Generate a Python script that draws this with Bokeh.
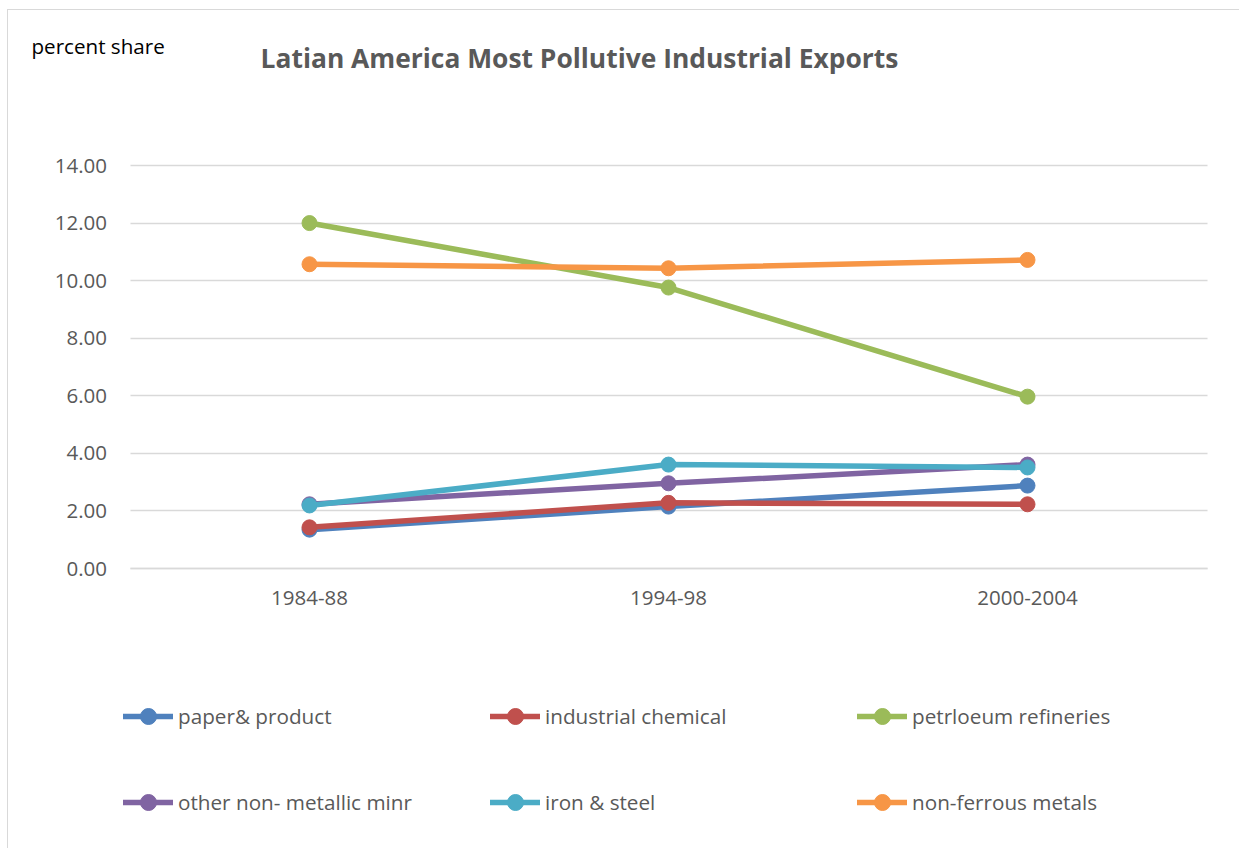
from bokeh.plotting import figure
from bokeh.models import (Legend, LegendItem, FixedTicker, NumeralTickFormatter,
                          Range1d, Label, Grid)
from bokeh.embed import file_html
from bokeh.resources import INLINE

periods = ["1984-88", "1994-98", "2000-2004"]
paper_product = [1.35, 2.15, 2.88]
industrial_chemical = [1.43, 2.28, 2.23]
petroleum_refineries = [12.00, 9.76, 5.97]
non_metallic_minr = [2.23, 2.96, 3.61]
iron_steel = [2.19, 3.61, 3.51]
non_ferrous_metals = [10.57, 10.43, 10.72]

series_names = ["paper& product", "industrial chemical", "petrloeum refineries",
                "other non- metallic minr", "iron & steel", "non-ferrous metals"]
series_values = [paper_product, industrial_chemical, petroleum_refineries,
                 non_metallic_minr, iron_steel, non_ferrous_metals]
series_colors = ["#4F81BD", "#C0504D", "#9BBB59", "#8064A2", "#4BACC6", "#F79646"]
y_ticks = [0, 2, 4, 6, 8, 10, 12, 14]

chart_title = "Latian America Most Pollutive Industrial Exports"
unit_note = "percent share"

FONT = "Open Sans"
GREY = "#595959"
GRID = "#D9D9D9"

# canvas geometry (pixels); the plotting frame fills the whole canvas and the
# axes sit at fixed positions inside it, leaving room for heading and keys
W, H = 1232, 839
LEFT, TOP = 7, 9
CAT0_PX, CAT_STEP_PX = 308 - LEFT, 359          # first category centre, spacing
ZERO_PX, UNIT_PX = 567 - TOP, (567 - 164) / 14  # y=0 position, pixels per unit

slot = list(range(len(periods)))
x_lo = -CAT0_PX / CAT_STEP_PX
x_hi = (W - CAT0_PX) / CAT_STEP_PX
y_hi = ZERO_PX / UNIT_PX
y_lo = -(H - ZERO_PX) / UNIT_PX
plot_span = (-0.5, len(periods) - 0.5)

p = figure(width=W, height=H, output_backend="svg", toolbar_location=None,
           margin=(TOP, 0, 0, LEFT),
           styles={"border-left": "1px solid #D9D9D9",
                   "border-top": "1px solid #D9D9D9"},
           x_range=Range1d(x_lo, x_hi), y_range=Range1d(y_lo, y_hi),
           min_border=0)
p.title.visible = False
p.outline_line_color = None
p.background_fill_color = "white"
p.border_fill_color = "white"

xa, ya = p.xaxis[0], p.yaxis[0]
xa.fixed_location = 0
xa.bounds = plot_span
xa.ticker = FixedTicker(ticks=slot)
xa.major_label_overrides = {i: lab for i, lab in zip(slot, periods)}
xa.axis_line_color = GRID
xa.axis_line_width = 1.3
xa.major_label_standoff = 22

ya.fixed_location = plot_span[0]
ya.bounds = (y_ticks[0], y_ticks[-1])
ya.ticker = FixedTicker(ticks=y_ticks)
ya.formatter = NumeralTickFormatter(format="0.00")
ya.axis_line_color = None
ya.major_label_standoff = 23

for ax in (xa, ya):
    ax.major_tick_line_color = None
    ax.minor_tick_line_color = None
    ax.major_tick_out = 0
    ax.major_tick_in = 0
    ax.major_label_text_font = FONT
    ax.major_label_text_font_size = "20.5px"
    ax.major_label_text_color = GREY

p.xgrid.visible = False
yg = p.ygrid[0]
yg.ticker = ya.ticker
yg.grid_line_color = GRID
yg.grid_line_width = 1.3
if "cross_bounds" in Grid.properties():
    yg.cross_bounds = plot_span
else:
    yg.visible = False
    p.segment(x0=plot_span[0], x1=plot_span[1], y0=y_ticks, y1=y_ticks,
              line_color=GRID, line_width=1.3)

items = []
for name, vals, col in zip(series_names, series_values, series_colors):
    ln = p.line(slot, vals, line_color=col, line_width=5.5, line_cap="round",
                line_join="round")
    mk = p.scatter(slot, vals, marker="circle", size=15, fill_color=col,
                   line_color=col)
    items.append(LegendItem(label=name, renderers=[ln, mk]))

# two rows of three series keys under the x axis
for row, vy in enumerate([113, 27]):
    leg = Legend(items=items[row * 3:(row + 1) * 3], location=(115, vy),
                 orientation="horizontal", glyph_width=50, glyph_height=40,
                 label_height=40, label_width=302, label_standoff=5, spacing=10,
                 padding=0, margin=0, border_line_alpha=0,
                 background_fill_alpha=0, label_text_font=FONT,
                 label_text_font_size="20.7px", label_text_color=GREY)
    p.add_layout(leg, "center")

p.add_layout(Label(x=571, y=792, x_units="screen", y_units="screen",
                   text=chart_title, text_font=FONT, text_font_size="26.4px",
                   text_font_style="bold", text_color=GREY,
                   text_align="center", text_baseline="middle"))
p.add_layout(Label(x=23, y=804, x_units="screen", y_units="screen",
                   text=unit_note, text_font=FONT, text_font_size="20.6px",
                   text_color="black", text_align="left",
                   text_baseline="middle"))

open("out.html", "w").write(file_html(p, INLINE))
